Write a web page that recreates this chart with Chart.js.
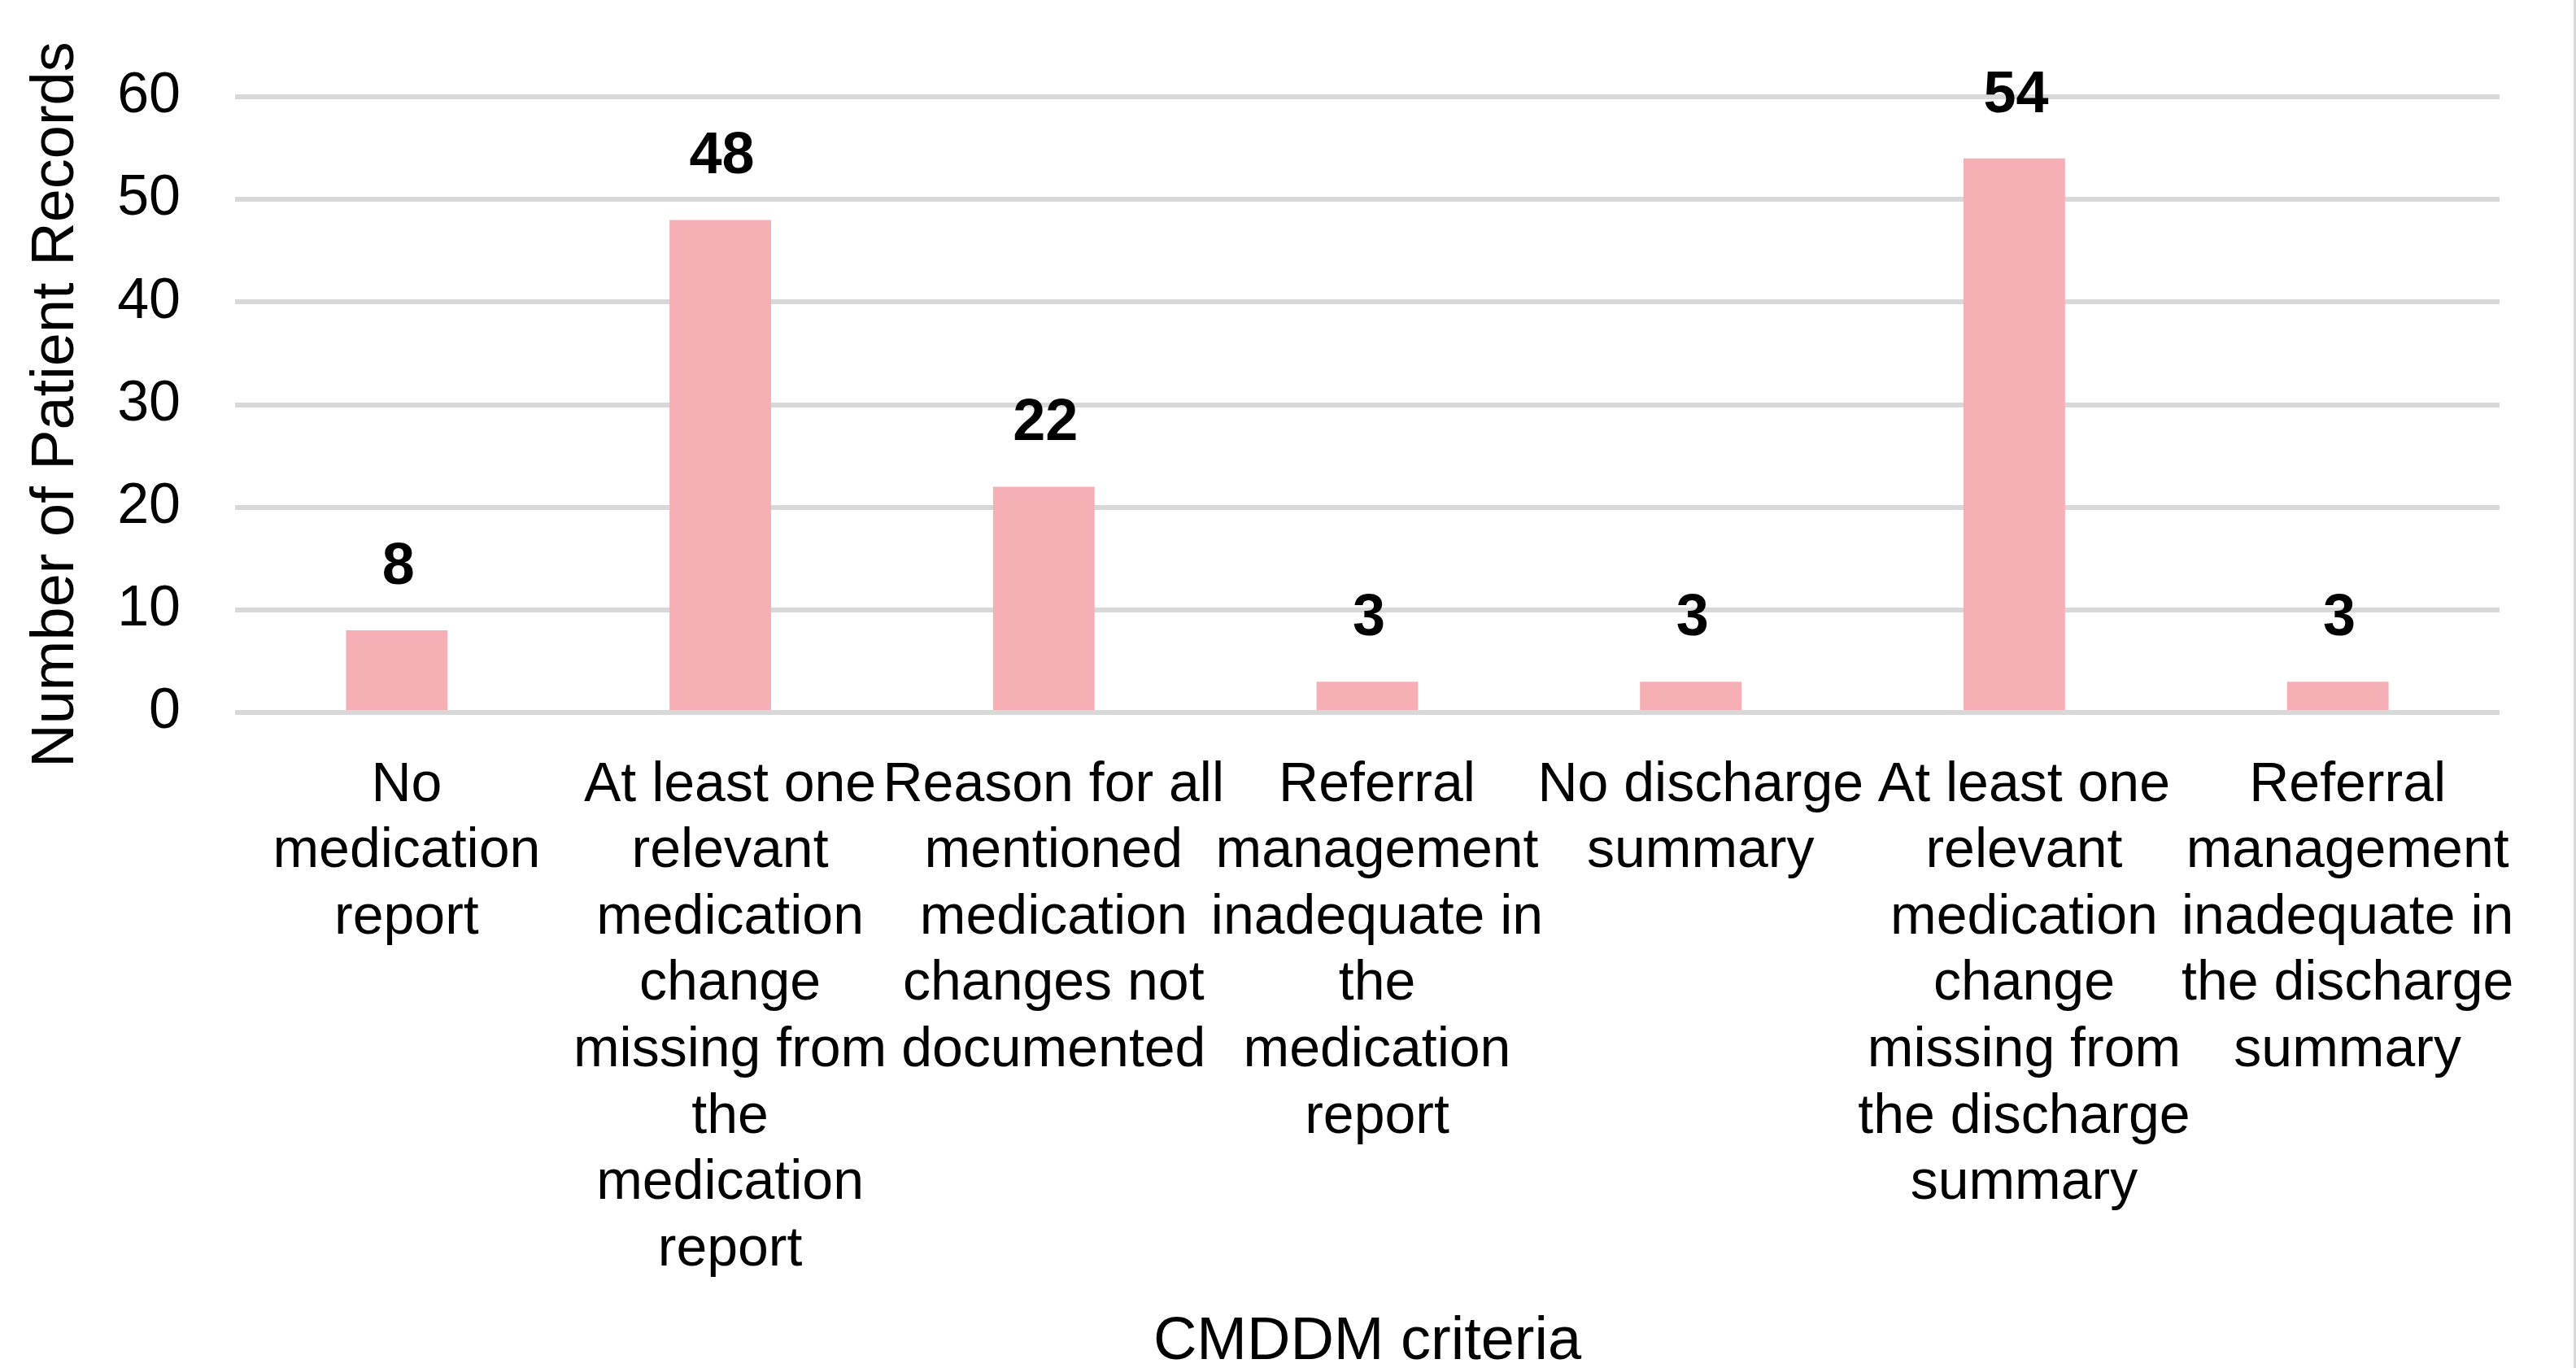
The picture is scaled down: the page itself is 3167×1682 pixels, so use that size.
<!DOCTYPE html>
<html>
<head>
<meta charset="utf-8">
<script src="https://cdn.jsdelivr.net/npm/chart.js@4.4.1/dist/chart.umd.min.js"></script>
<style>
  html, body { margin: 0; padding: 0; background: #ffffff; }
  #wrap { position: absolute; left: 0; top: 0; width: 3164px; height: 1682px; border-right: 3px solid #d9d9d9; }
  canvas { display: block; }
</style>
</head>
<body>
<div id="wrap"><canvas id="c" width="3164" height="1682"></canvas></div>
<script>
const categories = [
  ["No", "medication", "report"],
  ["At least one", "relevant", "medication", "change", "missing from", "the", "medication", "report"],
  ["Reason for all", "mentioned", "medication", "changes not", "documented"],
  ["Referral", "management", "inadequate in", "the", "medication", "report"],
  ["No discharge", "summary"],
  ["At least one", "relevant", "medication", "change", "missing from", "the discharge", "summary"],
  ["Referral", "management", "inadequate in", "the discharge", "summary"]
];
const recordCounts = [8, 48, 22, 3, 3, 54, 3];
const yTicks = [0, 10, 20, 30, 40, 50, 60];
const xTitle = "CMDDM criteria";
const yTitle = "Number of Patient Records";

const FONT = "'Liberation Sans', Arial, sans-serif";

const valueLabels = {
  id: 'valueLabels',
  afterDatasetsDraw(chart) {
    const ctx = chart.ctx;
    const meta = chart.getDatasetMeta(0);
    ctx.save();
    ctx.font = "bold 72px " + FONT;
    ctx.fillStyle = "#000000";
    ctx.textAlign = "center";
    ctx.textBaseline = "alphabetic";
    meta.data.forEach((bar, i) => {
      ctx.fillText(String(chart.data.datasets[0].data[i]), bar.x + 2, bar.y - 57);
    });
    ctx.restore();
  }
};

new Chart(document.getElementById('c'), {
  type: 'bar',
  data: {
    labels: categories,
    datasets: [{
      data: recordCounts,
      backgroundColor: '#F7AFB6',
      borderWidth: 0,
      categoryPercentage: 1.0,
      barPercentage: 0.314
    }]
  },
  options: {
    responsive: false,
    animation: false,
    devicePixelRatio: 1,
    layout: { padding: { top: 119, right: 91, bottom: 0, left: 0 } },
    plugins: { legend: { display: false }, tooltip: { enabled: false } },
    scales: {
      x: {
        grid: { display: false, drawTicks: false },
        border: { display: false },
        ticks: {
          color: '#000000',
          font: { family: FONT, size: 68, lineHeight: 1.2 },
          padding: 49,
          labelOffset: 12,
          maxRotation: 0,
          minRotation: 0,
          autoSkip: false
        },
        title: {
          display: true,
          text: xTitle,
          color: '#000000',
          font: { family: FONT, size: 74, lineHeight: 1 },
          padding: { top: 0, bottom: -6 }
        },
        afterFit(s) { s.height = 806; }
      },
      y: {
        min: 0,
        max: 60,
        afterBuildTicks(s) { s.ticks = yTicks.map(v => ({ value: v })); },
        grid: { color: '#D8D8D9', lineWidth: 6, drawTicks: false },
        border: { display: false },
        ticks: {
          color: '#000000',
          font: { family: FONT, size: 70 },
          padding: 67
        },
        title: {
          display: true,
          text: yTitle,
          color: '#000000',
          font: { family: FONT, size: 74, lineHeight: 1 },
          padding: { top: 33, bottom: 0 }
        },
        afterFit(s) { s.width = 289; }
      }
    }
  },
  plugins: [valueLabels]
});
</script>
</body>
</html>
